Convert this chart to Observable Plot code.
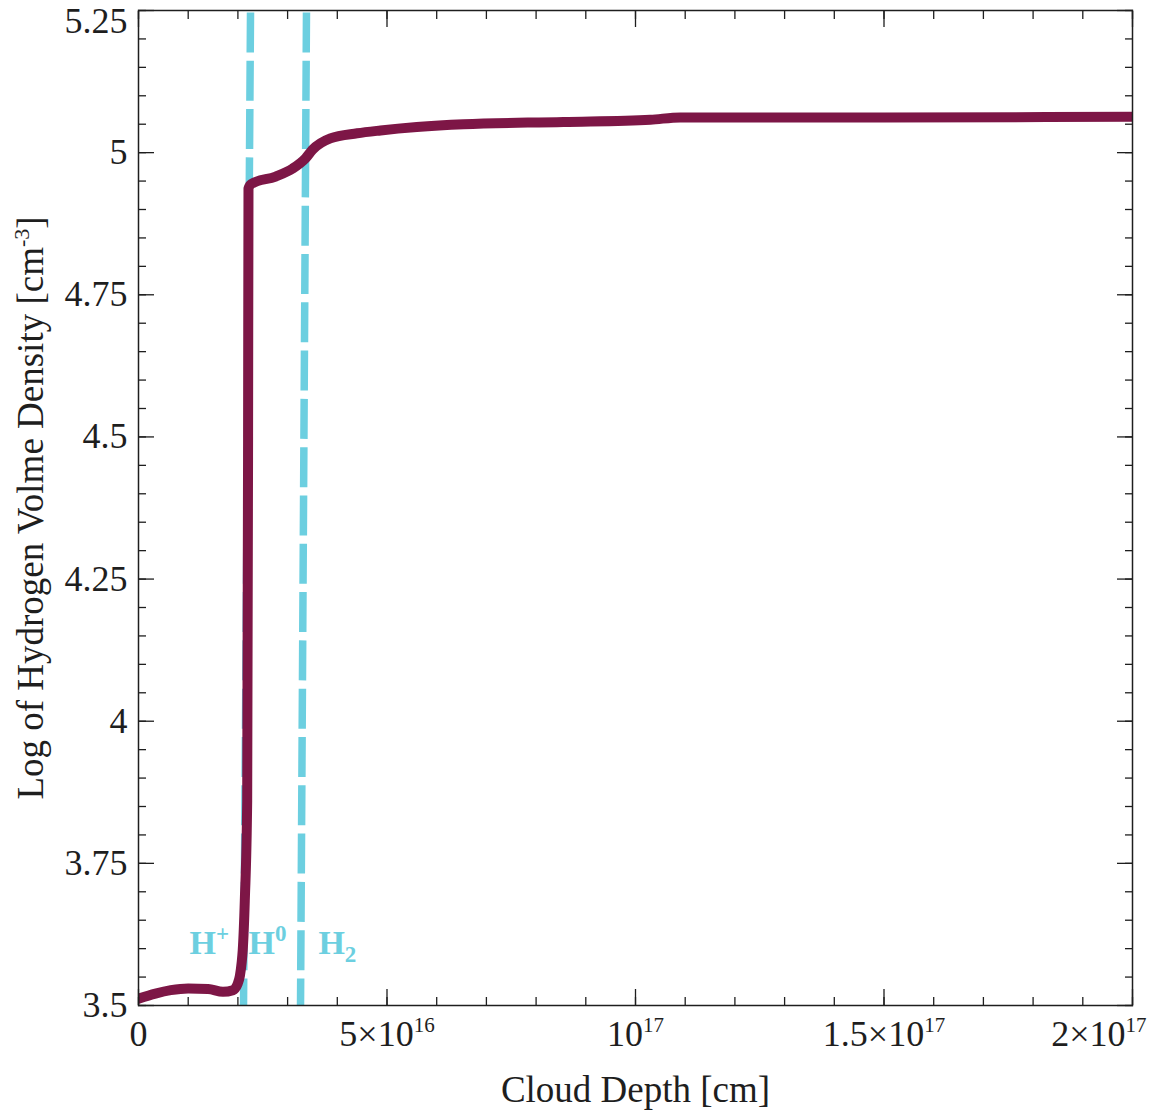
<!DOCTYPE html>
<html><head><meta charset="utf-8">
<script src="https://cdn.jsdelivr.net/npm/d3@7"></script>
<script src="https://cdn.jsdelivr.net/npm/@observablehq/plot@0.6"></script>
<style>body{margin:0;background:#fff}</style>
</head><body><div id="chart"></div>
<script>
// ---- data ----
const depth = [0, 3.4e15, 6.5e15, 1.0e16, 1.4e16, 1.7e16, 1.9e16, 1.99e16, 2.04e16, 2.075e16, 2.097e16,
  2.139e16, 2.187e16, 2.205e16, 2.213e16, 2.27e16, 2.76e16, 3.1e16, 3.36e16, 3.5e16, 3.86e16, 4.4e16, 4.87e16,
  5.6e16, 6.54e16, 8.55e16, 1.03e17, 1.09e17, 1.5e17, 2.0e17];
const logDensity = [3.512, 3.521, 3.527, 3.530, 3.529, 3.524, 3.527, 3.537, 3.552, 3.575, 3.597,
  3.685, 3.86, 4.5, 4.937, 4.945, 4.958, 4.972, 4.99, 5.005, 5.025, 5.034, 5.039,
  5.045, 5.050, 5.054, 5.058, 5.062, 5.062, 5.063];

const frontNames = ["H+/H0", "H0/H2"];
const frontDepthTop = [2.254e16, 3.38e16];
const frontDepthBottom = [2.113e16, 3.26e16];

const zoneLabels = ["H^{+}", "H^{0}", "H_{2}"];
const zoneLabelDepth = [1.026e16, 2.213e16, 3.62e16];
const zoneLabelLog = [3.59, 3.59, 3.59];

const xMajorTicks = [0, 5e16, 1e17, 1.5e17, 2e17];
const xTickLabels = ["0", "5×10^{16}", "10^{17}", "1.5×10^{17}", "2×10^{17}"];
const xMinorTicks = d3.range(0, 21).map(i => i * 1e16);
const yMajorTicks = [3.5, 3.75, 4, 4.25, 4.5, 4.75, 5, 5.25];
const yTickLabels = ["3.5", "3.75", "4", "4.25", "4.5", "4.75", "5", "5.25"];
const yMinorTicks = d3.range(0, 36).map(i => 3.5 + i * 0.05);

const xTitle = "Cloud Depth [cm]";
const yTitle = "Log of Hydrogen Volme Density [cm^{-3}]";

// ---- tables built from the arrays ----
const profile = depth.map((d, i) => ({depth: d, logn: logDensity[i]}));
const fronts = frontNames.flatMap((n, i) => [
  {front: n, depth: frontDepthTop[i], logn: 5.25},
  {front: n, depth: frontDepthBottom[i], logn: 3.5}
]);
const zones = zoneLabels.map((t, i) => ({text: t, depth: zoneLabelDepth[i], logn: zoneLabelLog[i]}));

const ink = "#1e1e1e";
const tickW = 1.3;
const tickOpts = (size) => ({tickSize: size, tickFormat: () => "", label: null, strokeWidth: tickW, stroke: ink});

const chart = Plot.plot({
  width: 1158, height: 1114,
  marginLeft: 138, marginRight: 26, marginTop: 10, marginBottom: 109,
  x: {domain: [0, 2e17]},
  y: {domain: [3.5, 5.25]},
  style: {fontFamily: "'Liberation Serif', 'Times New Roman', serif", fontSize: "36px", color: ink, background: "#fff"},
  marks: [
    Plot.line(fronts, {x: "depth", y: "logn", z: "front", stroke: "#6ccfe0", strokeWidth: 7.5,
      strokeDasharray: "40,8.3", strokeDashoffset: -2, strokeLinecap: "butt"}),
    Plot.line(profile, {x: "depth", y: "logn", curve: "monotone-x", stroke: "#7d1646", strokeWidth: 10,
      strokeLinejoin: "round", strokeLinecap: "round", clip: true}),
    Plot.text(zones, {x: "depth", y: "logn", text: "text", textAnchor: "start", lineAnchor: "bottom",
      fill: "#6ccfe0", fontWeight: "bold", fontSize: 34}),
    Plot.frame({stroke: ink, strokeWidth: 1.5}),
    Plot.axisX(xMinorTicks, {anchor: "bottom", ...tickOpts(-8)}),
    Plot.axisX(xMajorTicks, {anchor: "bottom", ...tickOpts(-16)}),
    Plot.axisX(xMinorTicks, {anchor: "top", ...tickOpts(-8)}),
    Plot.axisX(xMajorTicks, {anchor: "top", ...tickOpts(-16)}),
    Plot.axisY(yMinorTicks, {anchor: "left", ...tickOpts(-8)}),
    Plot.axisY(yMajorTicks, {anchor: "left", ...tickOpts(-16)}),
    Plot.axisY(yMinorTicks, {anchor: "right", ...tickOpts(-8)}),
    Plot.axisY(yMajorTicks, {anchor: "right", ...tickOpts(-16)}),
    Plot.axisX(xMajorTicks, {anchor: "bottom", tickSize: 0, tickPadding: 15,
      tickFormat: (d, i) => xTickLabels[i], label: xTitle, labelAnchor: "center", labelArrow: "none", labelOffset: 96, fontSize: 36}),
    Plot.axisY(yMajorTicks, {anchor: "left", tickSize: 0, tickPadding: 11,
      tickFormat: (d, i) => yTickLabels[i], label: yTitle, labelAnchor: "center", labelArrow: "none", labelOffset: 122, fontSize: 36})
  ]
});
document.getElementById("chart").append(chart);

// ---- rich text: superscripts / subscripts ----
const NS = "http://www.w3.org/2000/svg";
function rich(el, size, up, down) {
  const s = el.textContent;
  if (!/[\^_]\{/.test(s)) return;
  el.textContent = "";
  const re = /([\^_])\{([^}]*)\}/g;
  let last = 0, m, shift = 0;
  const add = (txt, fs, dy) => {
    const t = document.createElementNS(NS, "tspan");
    t.textContent = txt;
    if (fs) t.setAttribute("font-size", fs);
    if (dy) t.setAttribute("dy", dy);
    el.appendChild(t);
  };
  while ((m = re.exec(s))) {
    if (m.index > last) { add(s.slice(last, m.index), null, -shift || null); shift = 0; }
    const d = m[1] === "^" ? -up : down;
    add(m[2], size, d - shift); shift = d;
    last = re.lastIndex;
  }
  if (last < s.length) add(s.slice(last), null, -shift || null);
}
const svg = d3.select(chart);
svg.selectAll('g[aria-label="x-axis label"] text').attr("font-size", 37);
svg.selectAll('g[aria-label="y-axis label"] text').attr("font-size", 37);
svg.selectAll('g[aria-label="x-axis tick label"] text').each(function () {
  const raw = this.textContent;
  rich(this, 21, 14, 0);
  if (raw === xTickLabels[xTickLabels.length - 1]) { this.setAttribute("text-anchor", "end"); this.setAttribute("dx", 14); }
});
svg.selectAll('g[aria-label="y-axis tick label"] text').each(function () {
  if (this.textContent === yTickLabels[yTickLabels.length - 1]) this.setAttribute("dy", 11);
});
svg.selectAll('g[aria-label="y-axis label"] text').each(function () { rich(this, 22, 14, 0); });
svg.selectAll('g[aria-label="text"] text').each(function () { rich(this, 23, 13, 8); });
</script></body></html>
